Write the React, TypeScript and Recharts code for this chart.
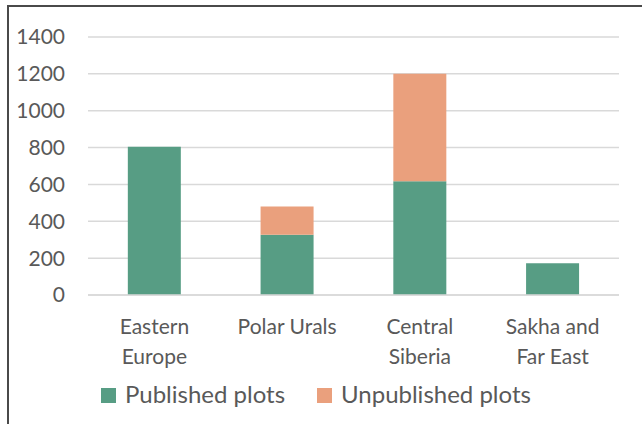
import React from 'react';
import { BarChart, Bar, XAxis, YAxis, CartesianGrid } from 'recharts';

// Regions along the x axis (line breaks as in the original labels)
const regions = ['Eastern Europe', 'Polar Urals', 'Central Siberia', 'Sakha and Far East'];
const regionLines: string[][] = [
  ['Eastern', 'Europe'],
  ['Polar Urals'],
  ['Central', 'Siberia'],
  ['Sakha and', 'Far East'],
];

// Plot counts
const published = [805, 327, 617, 172];
const unpublished = [0, 153, 583, 0];

const yTicks = [0, 200, 400, 600, 800, 1000, 1200, 1400];

const GREEN = '#579d84';
const ORANGE = '#eaa07d';
const TEXT = '#595959';
const GRID = '#d9d9d9';
const FONT = 'Lato, "Open Sans", sans-serif';

const data = regions.map((name, i) => ({
  name,
  published: published[i],
  unpublished: unpublished[i],
}));

const RegionTick = ({ x, y, payload, index }: any) => {
  const lines = regionLines[index] ?? [payload.value];
  return (
    <text x={x} y={y} textAnchor="middle" fill={TEXT} fontSize={21} fontFamily={FONT}>
      {lines.map((line, i) => (
        <tspan key={i} x={x} y={y + 39 + i * 30}>
          {line}
        </tspan>
      ))}
    </text>
  );
};

const legendItems = [
  { label: 'Published plots', color: GREEN, square: 101, text: 125 },
  { label: 'Unpublished plots', color: ORANGE, square: 317, text: 341 },
];

export default function App() {
  return (
    <div
      style={{
        position: 'absolute',
        left: 0,
        top: 0,
        width: 642,
        height: 424,
        overflow: 'hidden',
        background: '#fff',
        fontFamily: FONT,
      }}
    >
      <div style={{ position: 'absolute', left: 0, top: 0 }}>
        <BarChart
          width={642}
          height={424}
          data={data}
          margin={{ top: 37, right: 23, bottom: 0, left: 0 }}
          barCategoryGap="30%"
        >
          <CartesianGrid vertical={false} stroke={GRID} strokeWidth={1.5} />
          <XAxis
            dataKey="name"
            height={129}
            axisLine={{ stroke: GRID, strokeWidth: 1.5 }}
            tickLine={false}
            tickSize={0}
            tickMargin={0}
            interval={0}
            tick={<RegionTick />}
          />
          <YAxis
            width={88}
            domain={[0, 1400]}
            ticks={yTicks}
            axisLine={false}
            tickLine={false}
            tickSize={0}
            tickMargin={23}
            tick={{ fill: TEXT, fontSize: 21, fontFamily: FONT }}
          />
          <Bar dataKey="published" stackId="a" fill={GREEN} isAnimationActive={false} />
          <Bar dataKey="unpublished" stackId="a" fill={ORANGE} isAnimationActive={false} />
        </BarChart>
      </div>
      {legendItems.map((item) => (
        <React.Fragment key={item.label}>
          <div
            style={{
              position: 'absolute',
              left: item.square,
              top: 388,
              width: 15,
              height: 15,
              background: item.color,
            }}
          />
          <div
            style={{
              position: 'absolute',
              left: item.text,
              top: 380,
              fontSize: 24,
              lineHeight: 1.2,
              color: TEXT,
              whiteSpace: 'nowrap',
            }}
          >
            {item.label}
          </div>
        </React.Fragment>
      ))}
      {/* chart frame, only its top and left edges fall inside the picture */}
      <div
        style={{
          position: 'absolute',
          left: 7,
          top: 5,
          width: 700,
          height: 500,
          borderTop: '2px solid #4a4a4a',
          borderLeft: '2px solid #4a4a4a',
          pointerEvents: 'none',
        }}
      />
    </div>
  );
}
